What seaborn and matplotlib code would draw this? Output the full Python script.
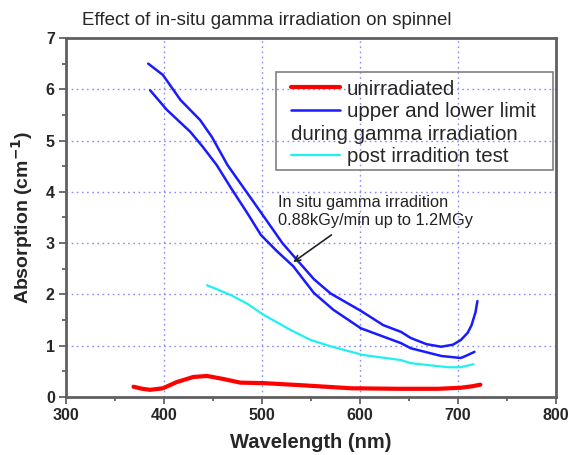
import numpy as np
import pandas as pd
import matplotlib
matplotlib.use("Agg")
import matplotlib.pyplot as plt
import seaborn as sns
from matplotlib.ticker import MultipleLocator
from matplotlib.patches import Rectangle

# values
red_wl = [369, 378, 386, 399, 413, 430, 444, 461, 478, 502, 540, 591, 639, 680, 703, 715, 723]
red_abs = [0.20, 0.16, 0.14, 0.17, 0.29, 0.39, 0.41, 0.35, 0.28, 0.27, 0.23, 0.17, 0.16, 0.16, 0.18, 0.21, 0.24]

upper_wl = [384, 399, 417, 437, 449, 465, 485, 499, 521, 536, 553, 570, 601, 624, 642, 652, 668, 683, 695, 703, 710, 714, 718, 720]
upper_abs = [6.50, 6.28, 5.79, 5.40, 5.07, 4.52, 3.98, 3.60, 3.00, 2.67, 2.30, 2.02, 1.68, 1.40, 1.27, 1.15, 1.03, 0.98, 1.02, 1.11, 1.25, 1.40, 1.65, 1.87]

lower_wl = [386, 403, 427, 440, 454, 468, 485, 499, 515, 532, 553, 573, 601, 642, 652, 683, 703, 708, 717]
lower_abs = [5.98, 5.60, 5.17, 4.87, 4.52, 4.09, 3.59, 3.16, 2.85, 2.55, 2.03, 1.70, 1.34, 1.05, 0.95, 0.80, 0.76, 0.80, 0.88]

post_wl = [444, 468, 485, 502, 529, 550, 570, 603, 642, 652, 690, 703, 716]
post_abs = [2.18, 1.99, 1.82, 1.60, 1.31, 1.11, 0.99, 0.82, 0.72, 0.66, 0.58, 0.58, 0.64]

x_ticks = [300, 400, 500, 600, 700, 800]
y_ticks = [0, 1, 2, 3, 4, 5, 6, 7]

sns.set_style("white")
plt.rcParams['font.family'] = ['Liberation Sans', 'DejaVu Sans']

fig = plt.figure(figsize=(5.73, 4.55), dpi=100)
ax = fig.add_axes([0.115, 0.1275, 0.855, 0.789])

sns.lineplot(x=red_wl, y=red_abs, color='#ff0000', lw=3, ax=ax, label='unirradiated')
sns.lineplot(x=upper_wl, y=upper_abs, color='#1a1aff', lw=1.8, ax=ax, label='upper and lower limit')
sns.lineplot(x=lower_wl, y=lower_abs, color='#1a1aff', lw=1.8, ax=ax)
ax.plot([], [], color='none', label=' ')
sns.lineplot(x=post_wl, y=post_abs, color='#22f0f0', lw=1.6, ax=ax, label='post irradition test')

ax.set_xlim(300, 800)
ax.set_ylim(0, 7)
ax.set_xticks(x_ticks)
ax.set_yticks(y_ticks)
ax.xaxis.set_minor_locator(MultipleLocator(50))
ax.yaxis.set_minor_locator(MultipleLocator(0.5))
ax.tick_params(which='both', direction='out', color='#555555', width=1.2)
ax.tick_params(which='major', length=5, labelsize=11.5, pad=3)
ax.tick_params(which='minor', length=3)
ax.tick_params(axis='both', which='both', bottom=True, left=True)
for t in ax.get_xticklabels() + ax.get_yticklabels():
    t.set_fontweight('bold')

ax.grid(True, which='major', color='#8a8aff', linestyle=(0, (1.2, 2.5)), lw=1.0)
for s in ax.spines.values():
    s.set_color('#606060')
    s.set_linewidth(2)

ax.set_xlabel('Wavelength (nm)', fontsize=14.5, fontweight='bold', labelpad=7)
ax.set_ylabel('Absorption (cm$^{\\mathbf{-1}}$)', fontsize=14, fontweight='bold', labelpad=8)

fig.text(0.465, 0.955, 'Effect of in-situ gamma irradiation on spinnel',
         fontsize=13.5, ha='center', va='center')

# legend without frame, the box is drawn around it with wider side padding
leg = ax.legend(loc='upper left', bbox_to_anchor=(0.4595, 0.884), borderaxespad=0,
                fontsize=14.8, handlelength=2.4, handletextpad=0.3, labelspacing=0.17,
                frameon=False, borderpad=0)

fig.canvas.draw()
r = fig.canvas.get_renderer()
inv = fig.transFigure.inverted()
hb = leg.legend_handles[1].get_window_extent(r)
tb = leg.get_texts()[2].get_window_extent(r)
x0, y0 = inv.transform((hb.x0, (tb.y0 + tb.y1) / 2))
fig.text(x0, y0, 'during gamma irradiation', fontsize=14.8, ha='left', va='center')

lb = leg.get_window_extent(r)
(fx0, fy0), (fx1, fy1) = inv.transform([(lb.x0 - 15, lb.y0 - 4), (lb.x1 + 18, lb.y1 + 8)])
fig.patches.append(Rectangle((fx0, fy0), fx1 - fx0, fy1 - fy0, transform=fig.transFigure,
                             fill=False, edgecolor='#808080', lw=1.2, zorder=5))

ax.text(516, 3.3, 'In situ gamma irradition\n0.88kGy/min up to 1.2MGy',
        fontsize=11.8, color='#222222', ha='left', va='bottom', linespacing=1.2)
ax.annotate('', xy=(532, 2.63), xytext=(571, 3.16),
            arrowprops=dict(arrowstyle='->', color='#222222', lw=1.2, shrinkA=0, shrinkB=0))

fig.savefig('out.png', dpi=100)
